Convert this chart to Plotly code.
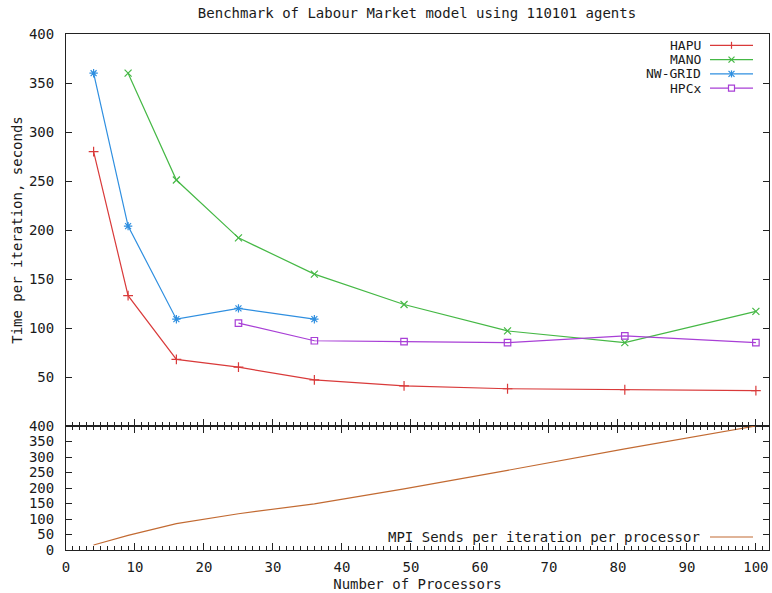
import plotly.graph_objects as go

# ---------------- data ----------------
procs_hapu = [4, 9, 16, 25, 36, 49, 64, 81, 100]
time_hapu = [280, 133, 68, 60, 47, 41, 38, 37, 36]

procs_mano = [9, 16, 25, 36, 49, 64, 81, 100]
time_mano = [360, 251, 192, 155, 124, 97, 85, 117]

procs_nwgrid = [4, 9, 16, 25, 36]
time_nwgrid = [360, 204, 109, 120, 109]

procs_hpcx = [25, 36, 49, 64, 81, 100]
time_hpcx = [105, 87, 86, 85, 92, 85]

procs_mpi = [4, 9, 16, 25, 36, 49, 64, 81, 100]
mpi_sends = [16, 47, 85, 117, 149, 197, 257, 326, 400]

x_ticks = list(range(0, 101, 10))
top_y_ticks = list(range(50, 401, 50))
bot_y_ticks = list(range(0, 401, 50))

series_names = ["HAPU", "MANO", "NW-GRID", "HPCx"]
series_colors = ["#d93a3a", "#45b845", "#2f8fe0", "#a83fd6"]
series_symbols = ["cross-thin", "x-thin", "asterisk", "square-open"]
mpi_name = "MPI Sends per iteration per processor"
mpi_color = "#c26a32"

# ---------------- layout geometry ----------------
W, H = 772, 593
ML, MR, MT, MB = 66, 3, 34, 43
PW, PH = W - ML - MR, H - MT - MB
split_px = 426  # boundary between panels (pixel from top)
bot_frac = (H - MB - split_px) / PH

def px_x(p):
    return (p - ML) / PW

def px_y(p):
    return (H - MB - p) / PH

FONT = "DejaVu Sans Mono"
FS = 14
KFS = 13
TXT = "#1a1a1a"
AX = "#222222"

fig = go.Figure()

xs = [procs_hapu, procs_mano, procs_nwgrid, procs_hpcx]
ys = [time_hapu, time_mano, time_nwgrid, time_hpcx]
for name, xv, yv, c, s in zip(series_names, xs, ys, series_colors, series_symbols):
    fig.add_trace(go.Scatter(
        x=xv, y=yv, name=name, mode="lines+markers",
        line=dict(color=c, width=1.2),
        marker=dict(symbol=s, size=7 if s != "square-open" else 6.5, color=c,
                    line=dict(color=c, width=1.2)),
        xaxis="x", yaxis="y", showlegend=False))

fig.add_trace(go.Scatter(
    x=procs_mpi, y=mpi_sends, name=mpi_name, mode="lines",
    line=dict(color=mpi_color, width=1.2),
    xaxis="x2", yaxis="y2", showlegend=False))

common_x = dict(range=[0, 101.9], tickvals=x_ticks, showgrid=False, zeroline=False,
                showline=True, linecolor=AX, linewidth=1,
                ticks="inside", ticklen=7, tickcolor=AX,
                minor=dict(dtick=1, ticks="inside", ticklen=4, tickcolor=AX),
                tickfont=dict(family=FONT, size=FS, color=TXT))
common_y = dict(range=[0, 400], showgrid=False, zeroline=False,
                showline=True, linecolor=AX, linewidth=1, mirror="ticks",
                ticks="inside", ticklen=6, tickcolor=AX,
                tickfont=dict(family=FONT, size=FS, color=TXT),
                ticklabelstandoff=8)

fig.update_layout(
    width=W, height=H,
    margin=dict(l=ML, r=MR, t=MT, b=MB),
    paper_bgcolor="white", plot_bgcolor="white",
    font=dict(family=FONT, size=FS, color=TXT),
    title=dict(text="Benchmark of Labour Market model using 110101 agents",
               x=px_x(417), xanchor="center", xref="paper",
               y=1 - 13 / H, yanchor="middle", yref="container",
               font=dict(family=FONT, size=FS, color=TXT)),
    xaxis=dict(common_x, anchor="y", domain=[0, 1], showticklabels=False, mirror=True),
    yaxis=dict(common_y, domain=[bot_frac, 1], anchor="x", tickvals=top_y_ticks,
               title=dict(text="Time per iteration, seconds", standoff=3,
                          font=dict(family=FONT, size=FS, color=TXT))),
    xaxis2=dict(common_x, anchor="y2", domain=[0, 1], mirror="ticks",
                ticklabelstandoff=4,
                title=dict(text="Number of Processors", standoff=5,
                           font=dict(family=FONT, size=FS, color=TXT))),
    yaxis2=dict(common_y, domain=[0, bot_frac], anchor="x2", tickvals=bot_y_ticks),
)

# ---------------- gnuplot-style keys ----------------
shapes = []
annotations = []
text_right = px_x(702)
ln0, ln1 = px_x(710), px_x(753)
mid = px_x(731.5)
rows = [45.3, 59.6, 73.9, 88.2]
for name, c, s, r in zip(series_names, series_colors, series_symbols, rows):
    yy = px_y(r)
    annotations.append(dict(text=name, x=text_right, y=yy, xref="paper", yref="paper",
                            xanchor="right", yanchor="middle", showarrow=False,
                            height=13, borderpad=0,
                            font=dict(family=FONT, size=KFS, color=TXT)))
    shapes.append(dict(type="line", xref="paper", yref="paper", x0=ln0, x1=ln1,
                       y0=yy, y1=yy, line=dict(color=c, width=1.2)))
    segs = []
    if s in ("cross-thin", "asterisk"):
        segs += [(0, -3.5, 0, 3.5)]
    if s in ("x-thin", "asterisk"):
        segs += [(-3, -3, 3, 3), (-3, 3, 3, -3)]
    for (a, b, cc, d) in segs:
        shapes.append(dict(type="line", xref="paper", yref="paper",
                           xsizemode="pixel", ysizemode="pixel",
                           xanchor=mid, yanchor=yy, x0=a, y0=b, x1=cc, y1=d,
                           line=dict(color=c, width=1.2)))
    if s == "square-open":
        shapes.append(dict(type="rect", xref="paper", yref="paper",
                           xsizemode="pixel", ysizemode="pixel",
                           xanchor=mid, yanchor=yy, x0=-3, y0=-3, x1=3, y1=3,
                           line=dict(color=c, width=1.2), fillcolor="white"))

yy = px_y(537)
annotations.append(dict(text=mpi_name, x=text_right, y=yy, xref="paper", yref="paper",
                        xanchor="right", yanchor="middle", showarrow=False,
                        font=dict(family=FONT, size=FS, color=TXT)))
shapes.append(dict(type="line", xref="paper", yref="paper", x0=ln0, x1=ln1,
                   y0=yy, y1=yy, line=dict(color=mpi_color, width=1.2)))

fig.update_layout(shapes=shapes, annotations=annotations)

fig.write_html("out.html")
